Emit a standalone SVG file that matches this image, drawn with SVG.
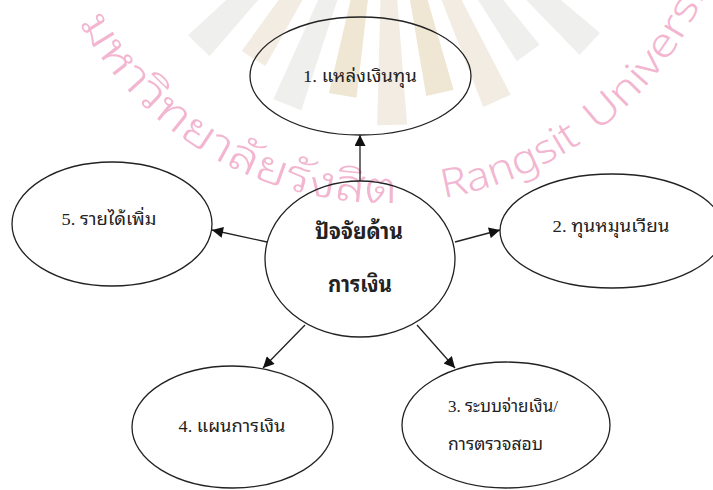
<svg xmlns="http://www.w3.org/2000/svg" xmlns:xlink="http://www.w3.org/1999/xlink" width="713" height="490" viewBox="0 0 713 490">
  <style>
    .node { fill: none; stroke: #222; stroke-width: 1.3; }
    .lbl { font-family: "Liberation Serif", "Noto Sans Thai Looped", "Noto Serif Thai", "Noto Sans Thai", Tahoma, serif; font-size: 17px; fill: #222; }
    .main { font-family: "Liberation Sans", "Noto Sans Thai Looped", "Noto Sans Thai", Tahoma, sans-serif; font-size: 22px; font-weight: bold; fill: #222; }
    .conn { stroke: #222; stroke-width: 1.3; fill: none; marker-end: url(#arr); }
    .wm { font-family: "Noto Sans", "Noto Sans Thai Looped", "Noto Sans Thai", "DejaVu Sans", sans-serif; font-size: 40px; fill: #f3b6d0; font-weight: 300; }
    .wmth { font-size: 44px; }
    .rayA { fill: #f2ece2; }
    .rayB { fill: #efefee; }
    .rayC { fill: #efe6d3; }
  </style>
  <defs>
    <marker id="arr" viewBox="0 0 10 10" refX="10" refY="5" markerWidth="13" markerHeight="11" markerUnits="userSpaceOnUse" orient="auto">
      <path d="M0,0 L10,5 L0,10 z" fill="#111"/>
    </marker>
    <path id="wmArc" d="M79,22.7 A350,350 0 0 0 729.7,-86.2"/>
  </defs>
  <rect width="713" height="490" fill="#ffffff"/>

  <g id="watermark">
    <g transform="translate(385,-147)">
      <polygon class="rayB" points="140,-8 268,-15 268,15 140,8" transform="rotate(134)"/>
      <polygon class="rayA" points="140,-8 244,-14 244,14 140,8" transform="rotate(122.6)"/>
      <polygon class="rayB" points="140,-8 270,-15 270,15 140,8" transform="rotate(111.2)"/>
      <polygon class="rayC" points="140,-8 246,-14 246,14 140,8" transform="rotate(99.9)"/>
      <polygon class="rayA" points="140,-8 272,-15 272,15 140,8" transform="rotate(88.5)"/>
      <polygon class="rayC" points="140,-8 246,-14 246,14 140,8" transform="rotate(77.1)"/>
      <polygon class="rayA" points="140,-8 272,-15 272,15 140,8" transform="rotate(65.7)"/>
      <polygon class="rayB" points="140,-8 246,-14 246,14 140,8" transform="rotate(54.4)"/>
      <polygon class="rayB" points="140,-8 280,-15 280,15 140,8" transform="rotate(43)"/>
    </g>
    <text class="wm wmth"><textPath xlink:href="#wmArc" startOffset="0" textLength="385" lengthAdjust="spacingAndGlyphs">มหาวิทยาลัยรังสิต</textPath></text>
    <text class="wm"><textPath xlink:href="#wmArc" startOffset="431" textLength="150" lengthAdjust="spacingAndGlyphs">Rangsit</textPath></text>
    <text class="wm"><textPath xlink:href="#wmArc" startOffset="600" textLength="215" lengthAdjust="spacingAndGlyphs">University</textPath></text>
  </g>

  <g id="connectors">
    <line class="conn" x1="360" y1="181" x2="360" y2="135"/>
    <line class="conn" x1="455" y1="242" x2="500" y2="230"/>
    <line class="conn" x1="417" y1="325" x2="455" y2="368"/>
    <line class="conn" x1="305" y1="325" x2="263" y2="368"/>
    <line class="conn" x1="267" y1="242" x2="212" y2="230"/>
  </g>

  <g id="center">
    <ellipse class="node" cx="360" cy="259" rx="95" ry="78"/>
    <text class="main" x="359" y="239" text-anchor="middle" textLength="88" lengthAdjust="spacingAndGlyphs">ปัจจัยด้าน</text>
    <text class="main" x="360" y="292" text-anchor="middle" textLength="64" lengthAdjust="spacingAndGlyphs">การเงิน</text>
  </g>

  <g id="n1">
    <ellipse class="node" cx="360.5" cy="76" rx="110.5" ry="59"/>
    <text class="lbl" x="360" y="82" text-anchor="middle" textLength="114" lengthAdjust="spacingAndGlyphs">1. แหล่งเงินทุน</text>
  </g>

  <g id="n2">
    <ellipse class="node" cx="612" cy="231" rx="112" ry="57"/>
    <text class="lbl" x="611" y="232" text-anchor="middle" textLength="117" lengthAdjust="spacingAndGlyphs">2. ทุนหมุนเวียน</text>
  </g>

  <g id="n3">
    <ellipse class="node" cx="506" cy="425" rx="104" ry="63"/>
    <text class="lbl" x="448" y="412" textLength="110" lengthAdjust="spacingAndGlyphs">3. ระบบจ่ายเงิน/</text>
    <text class="lbl" x="448" y="450" textLength="95" lengthAdjust="spacingAndGlyphs">การตรวจสอบ</text>
  </g>

  <g id="n4">
    <ellipse class="node" cx="232.5" cy="427" rx="100.5" ry="61"/>
    <text class="lbl" x="232" y="432" text-anchor="middle" textLength="107" lengthAdjust="spacingAndGlyphs">4. แผนการเงิน</text>
  </g>

  <g id="n5">
    <ellipse class="node" cx="112" cy="224" rx="100" ry="62"/>
    <text class="lbl" x="109" y="225" text-anchor="middle" textLength="95" lengthAdjust="spacingAndGlyphs">5. รายได้เพิ่ม</text>
  </g>
</svg>
